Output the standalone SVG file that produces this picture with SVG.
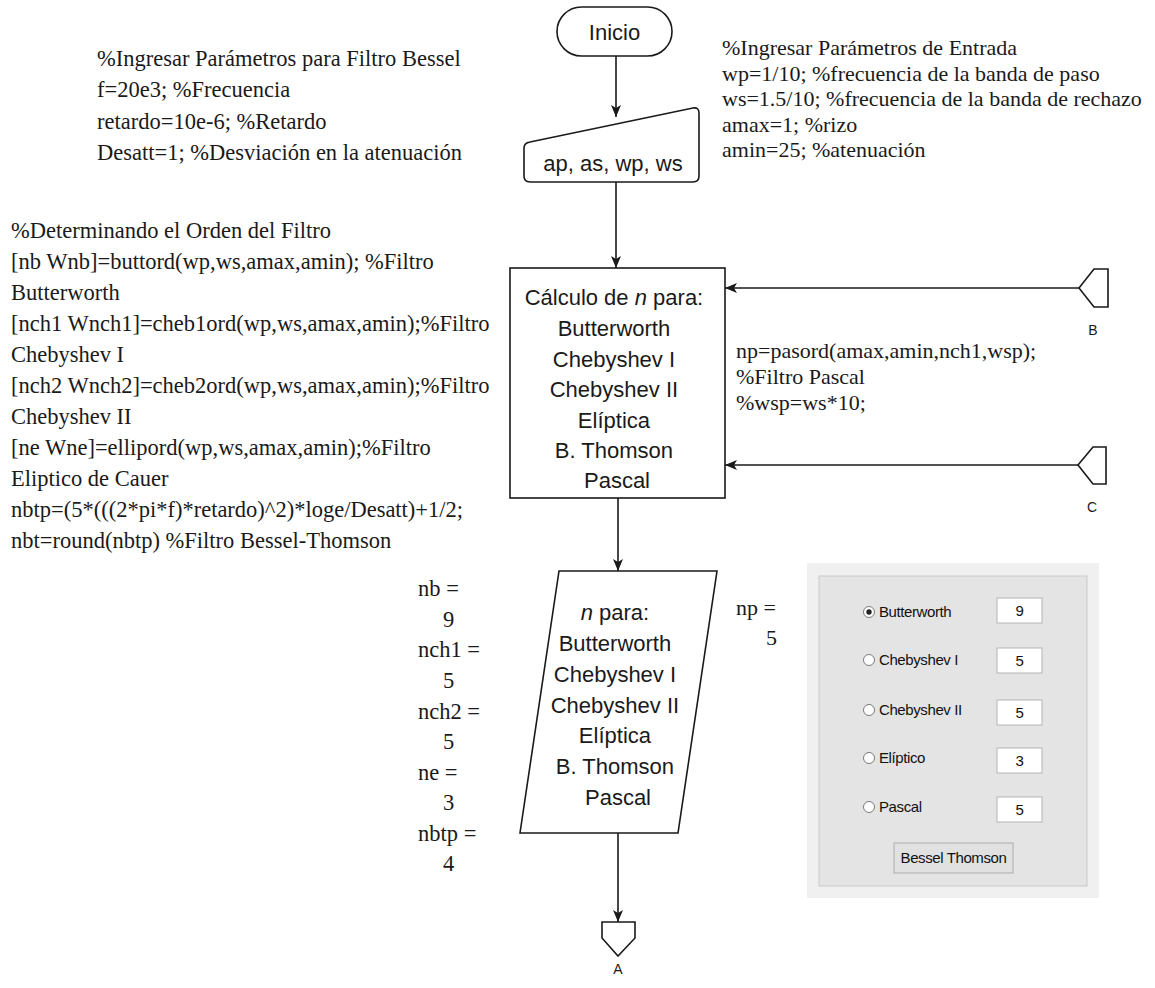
<svg xmlns="http://www.w3.org/2000/svg" width="1155" height="988" viewBox="0 0 1155 988">
<style>
.bg{fill:#ffffff}
.shape{fill:#ffffff;stroke:#1a1a1a;stroke-width:1.6}
.edge{fill:none;stroke:#1a1a1a;stroke-width:1.6}
.sans{font-family:"Liberation Sans",Arial,sans-serif;font-size:22px;fill:#1a1a1a}
.serif{font-family:"Liberation Serif","Times New Roman",serif;font-size:22px;fill:#1a1a1a}
.serifl{font-family:"Liberation Serif","Times New Roman",serif;font-size:22.5px;fill:#1a1a1a}
.lbl{font-family:"Liberation Sans",Arial,sans-serif;font-size:14px;fill:#1a1a1a}
.gui{font-family:"Liberation Sans",Arial,sans-serif;font-size:15px;letter-spacing:-0.4px;fill:#111}
.edit{fill:#ffffff;stroke:#b4b4b4;stroke-width:1}
.radio{fill:#ffffff;stroke:#7a7a7a;stroke-width:1}
</style>
<defs>
<marker id="arr" viewBox="0 0 12 12" refX="12" refY="6" markerWidth="12" markerHeight="12" markerUnits="userSpaceOnUse" orient="auto">
<path d="M0,1 L12,6 L0,11 L3,6 Z" fill="#1a1a1a"/>
</marker>
</defs>
<rect class="bg" x="0" y="0" width="1155" height="988"/>

<g id="connectors">
<line class="edge" x1="616" y1="56" x2="616" y2="117" marker-end="url(#arr)"/>
<line class="edge" x1="616" y1="182" x2="616" y2="268" marker-end="url(#arr)"/>
<line class="edge" x1="618" y1="498" x2="618" y2="571" marker-end="url(#arr)"/>
<line class="edge" x1="618" y1="833" x2="618" y2="922" marker-end="url(#arr)"/>
<line class="edge" x1="1079" y1="288" x2="725" y2="288" marker-end="url(#arr)"/>
<line class="edge" x1="1078" y1="465" x2="725" y2="465" marker-end="url(#arr)"/>
</g>

<g id="inicio">
<rect class="shape" x="557" y="7" width="115" height="49" rx="24.5" ry="24.5"/>
<text class="sans" x="614.5" y="39.5" text-anchor="middle">Inicio</text>
</g>

<g id="entrada">
<path class="shape" d="M530,142 L693,108 Q699,107 699,113 L699,176 Q699,182 693,182 L530,182 Q524,182 524,176 L524,148 Q524,143 530,142 Z"/>
<text class="sans" x="613" y="171" text-anchor="middle">ap, as, wp, ws</text>
</g>

<g id="calculo">
<rect class="shape" x="510" y="268" width="215" height="230"/>
<text class="sans" text-anchor="middle">
<tspan x="617" y="305">Cálculo de <tspan font-style="italic">n</tspan> para:</tspan>
<tspan x="617" y="336">Butterworth</tspan>
<tspan x="617" y="367">Chebyshev I</tspan>
<tspan x="617" y="397">Chebyshev II</tspan>
<tspan x="617" y="428">Elíptica</tspan>
<tspan x="617" y="458">B. Thomson</tspan>
<tspan x="617" y="488">Pascal</tspan>
</text>
</g>

<g id="salida">
<polygon class="shape" points="559,571 717,571 678,833 520,833"/>
<text class="sans" text-anchor="middle">
<tspan x="618" y="620"><tspan font-style="italic">n</tspan> para:</tspan>
<tspan x="618" y="651">Butterworth</tspan>
<tspan x="618" y="682">Chebyshev I</tspan>
<tspan x="618" y="713">Chebyshev II</tspan>
<tspan x="618" y="743">Elíptica</tspan>
<tspan x="618" y="774">B. Thomson</tspan>
<tspan x="618" y="805">Pascal</tspan>
</text>
</g>

<g id="conector-a">
<polygon class="shape" points="602,922 635,922 635,938 618,956 602,938"/>
<text class="lbl" x="618" y="974" text-anchor="middle">A</text>
</g>

<g id="conector-b">
<polygon class="shape" points="1079,288 1094,269 1108,269 1108,307 1094,307"/>
<text class="lbl" x="1093" y="335" text-anchor="middle">B</text>
</g>

<g id="conector-c">
<polygon class="shape" points="1078,465 1093,447 1106,447 1106,484 1093,484"/>
<text class="lbl" x="1092" y="512" text-anchor="middle">C</text>
</g>

<g id="nota-bessel">
<text class="serifl">
<tspan x="97" y="65.5">%Ingresar Parámetros para Filtro Bessel</tspan>
<tspan x="97" y="97">f=20e3; %Frecuencia</tspan>
<tspan x="97" y="128.5">retardo=10e-6; %Retardo</tspan>
<tspan x="97" y="160">Desatt=1; %Desviación en la atenuación</tspan>
</text>
</g>

<g id="nota-entrada">
<text class="serif">
<tspan x="722" y="55">%Ingresar Parámetros de Entrada</tspan>
<tspan x="722" y="80.5">wp=1/10; %frecuencia de la banda de paso</tspan>
<tspan x="722" y="106">ws=1.5/10; %frecuencia de la banda de rechazo</tspan>
<tspan x="722" y="131.5">amax=1; %rizo</tspan>
<tspan x="722" y="157">amin=25; %atenuación</tspan>
</text>
</g>

<g id="nota-orden">
<text class="serifl">
<tspan x="11" y="238">%Determinando el Orden del Filtro</tspan>
<tspan x="11" y="269">[nb Wnb]=buttord(wp,ws,amax,amin); %Filtro</tspan>
<tspan x="11" y="300">Butterworth</tspan>
<tspan x="11" y="331">[nch1 Wnch1]=cheb1ord(wp,ws,amax,amin);%Filtro</tspan>
<tspan x="11" y="362">Chebyshev I</tspan>
<tspan x="11" y="393">[nch2 Wnch2]=cheb2ord(wp,ws,amax,amin);%Filtro</tspan>
<tspan x="11" y="424">Chebyshev II</tspan>
<tspan x="11" y="455">[ne Wne]=ellipord(wp,ws,amax,amin);%Filtro</tspan>
<tspan x="11" y="486">Eliptico de Cauer</tspan>
<tspan x="11" y="517">nbtp=(5*(((2*pi*f)*retardo)^2)*loge/Desatt)+1/2;</tspan>
<tspan x="11" y="548">nbt=round(nbtp) %Filtro Bessel-Thomson</tspan>
</text>
</g>

<g id="nota-pascal">
<text class="serif">
<tspan x="736" y="358">np=pasord(amax,amin,nch1,wsp);</tspan>
<tspan x="736" y="384">%Filtro Pascal</tspan>
<tspan x="736" y="410">%wsp=ws*10;</tspan>
</text>
</g>

<g id="resultados">
<text class="serifl">
<tspan x="418" y="596">nb =</tspan>
<tspan x="443" y="627">9</tspan>
<tspan x="418" y="657">nch1 =</tspan>
<tspan x="443" y="688">5</tspan>
<tspan x="418" y="719">nch2 =</tspan>
<tspan x="443" y="749">5</tspan>
<tspan x="418" y="780">ne =</tspan>
<tspan x="443" y="810">3</tspan>
<tspan x="418" y="841">nbtp =</tspan>
<tspan x="443" y="871">4</tspan>
</text>
</g>

<g id="resultado-np">
<text class="serif">
<tspan x="736" y="615">np =</tspan>
<tspan x="766" y="645">5</tspan>
</text>
</g>

<g id="interfaz">
<rect x="807" y="563" width="292" height="335" fill="#f0f0f0"/>
<rect x="819" y="576" width="268" height="310" fill="#e4e4e4" stroke="#c9c9c9" stroke-width="1"/>
<circle class="radio" cx="869" cy="612" r="5.5"/>
<circle cx="869" cy="612" r="2.7" fill="#222"/>
<text class="gui" x="879" y="617">Butterworth</text>
<rect class="edit" x="997" y="598" width="45" height="25"/>
<text class="gui" x="1019.5" y="616" text-anchor="middle">9</text>
<circle class="radio" cx="869" cy="660" r="5.5"/>
<text class="gui" x="879" y="665">Chebyshev I</text>
<rect class="edit" x="997" y="648" width="45" height="25"/>
<text class="gui" x="1019.5" y="666" text-anchor="middle">5</text>
<circle class="radio" cx="869" cy="710" r="5.5"/>
<text class="gui" x="879" y="715">Chebyshev II</text>
<rect class="edit" x="997" y="700" width="45" height="25"/>
<text class="gui" x="1019.5" y="718" text-anchor="middle">5</text>
<circle class="radio" cx="869" cy="758" r="5.5"/>
<text class="gui" x="879" y="763">Elíptico</text>
<rect class="edit" x="997" y="748" width="45" height="25"/>
<text class="gui" x="1019.5" y="766" text-anchor="middle">3</text>
<circle class="radio" cx="869" cy="807" r="5.5"/>
<text class="gui" x="879" y="812">Pascal</text>
<rect class="edit" x="997" y="797" width="45" height="25"/>
<text class="gui" x="1019.5" y="815" text-anchor="middle">5</text>
<rect x="894" y="843" width="119" height="30" fill="#e1e1e1" stroke="#adadad" stroke-width="1"/>
<text class="gui" x="953.5" y="863" text-anchor="middle">Bessel Thomson</text>
</g>
</svg>
